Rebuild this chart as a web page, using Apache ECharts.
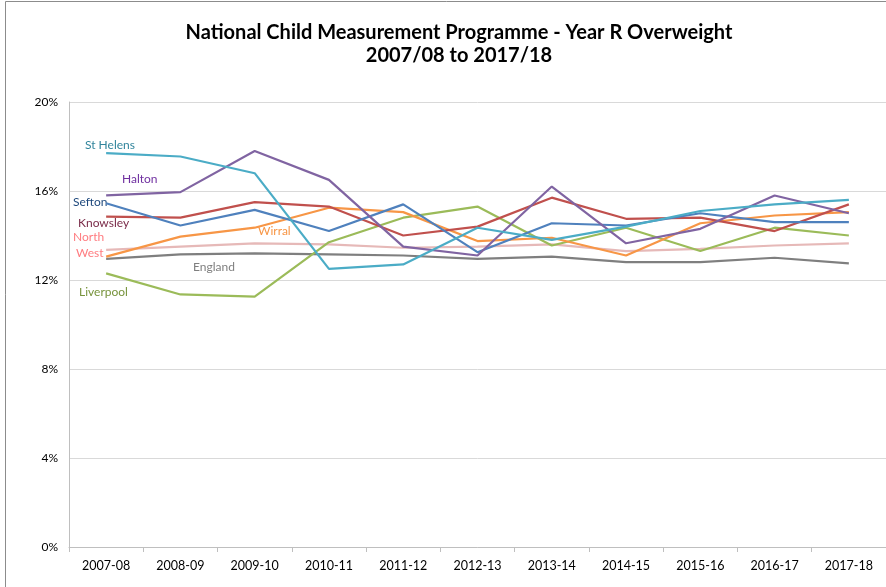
<!DOCTYPE html>
<html><head><meta charset="utf-8">
<script src="https://cdn.jsdelivr.net/npm/echarts@6/dist/echarts.min.js"></script>
<style>html,body{margin:0;padding:0;background:#fff;}#c{width:886px;height:587px;}</style>
</head><body><div id="c"></div>
<script>
const categories = ['2007-08','2008-09','2009-10','2010-11','2011-12','2012-13','2013-14','2014-15','2015-16','2016-17','2017-18'];
const stHelens  = [17.7,17.55,16.8,12.5,12.7,14.35,13.8,14.4,15.1,15.4,15.6];
const halton    = [15.8,15.95,17.8,16.5,13.5,13.1,16.2,13.65,14.3,15.8,15.0];
const sefton    = [15.45,14.45,15.15,14.2,15.4,13.25,14.55,14.45,15.0,14.6,14.6];
const knowsley  = [14.85,14.8,15.5,15.3,14.0,14.4,15.7,14.75,14.8,14.2,15.4];
const wirral    = [13.05,13.95,14.35,15.25,15.05,13.75,13.9,13.1,14.55,14.9,15.05];
const liverpool = [12.3,11.35,11.25,13.7,14.8,15.3,13.55,14.35,13.3,14.35,14.0];
const northWest = [13.35,13.5,13.65,13.6,13.45,13.5,13.6,13.3,13.4,13.55,13.65];
const england   = [12.95,13.15,13.2,13.15,13.1,12.95,13.05,12.8,12.8,13.0,12.75];
const yTicks = [0,4,8,12,16,20];

const chart = echarts.init(document.getElementById('c'));
const font = 'Lato, "Open Sans", sans-serif';
function line(name, data, color){
  return {name, type:'line', data, symbol:'none', smooth:false,
    lineStyle:{color, width:2.2}, itemStyle:{color}, z: 3};
}
const labels = [
  ['St Helens', 85, 146, '#31859c'],
  ['Halton', 122, 180, '#7030a0'],
  ['Sefton', 73, 203, '#1f497d'],
  ['Knowsley', 78, 224, '#7b2c4a'],
  ['North', 73, 238, '#ff7c80'],
  ['West', 76, 254, '#ff7c80'],
  ['England', 193, 268, '#7f7f7f'],
  ['Liverpool', 79, 293, '#77933c'],
  ['Wirral', 258, 232, '#f79646']
];
chart.setOption({
  animation:false,
  backgroundColor:'#fff',
  title:{text:'National Child Measurement Programme - Year R Overweight\n2007/08 to 2017/18',
    left:454, top:16, textAlign:'center',
    textStyle:{fontFamily:font, fontWeight:'bold', fontSize:20, lineHeight:23, color:'#000'}},
  grid:{left:69, top:102, width:824, height:445, containLabel:false},
  xAxis:{type:'category', data:categories, boundaryGap:true,
    axisLine:{lineStyle:{color:'#bfbfbf'}},
    axisTick:{show:true, length:5, lineStyle:{color:'#bfbfbf'}},
    axisLabel:{fontFamily:font, fontSize:12.5, color:'#000', margin:12, interval:0}},
  yAxis:{type:'value', min:yTicks[0], max:yTicks[yTicks.length-1], interval:4,
    axisLine:{show:true, lineStyle:{color:'#bfbfbf'}},
    axisTick:{show:false},
    splitLine:{lineStyle:{color:'#d9d9d9'}},
    axisLabel:{fontFamily:font, fontSize:12, color:'#000', margin:11, formatter:'{value}%'}},
  series:[
    line('England', england, '#7f7f7f'),
    line('North West', northWest, '#e6b9b8'),
    line('Liverpool', liverpool, '#9bbb59'),
    line('Wirral', wirral, '#f79646'),
    line('Knowsley', knowsley, '#c0504d'),
    line('Sefton', sefton, '#4f81bd'),
    line('Halton', halton, '#8064a2'),
    line('St Helens', stHelens, '#4bacc6')
  ],
  graphic:[
    {type:'rect', shape:{x:5.5, y:1.5, width:900, height:600}, style:{fill:null, stroke:'#8c8c8c', lineWidth:1}, silent:true, z:-1},
    ...labels.map(l=>({type:'text', left:l[1], top:l[2]-7, style:{text:l[0], fill:l[3], font:'12px '+font}}))
  ]
});
</script></body></html>
